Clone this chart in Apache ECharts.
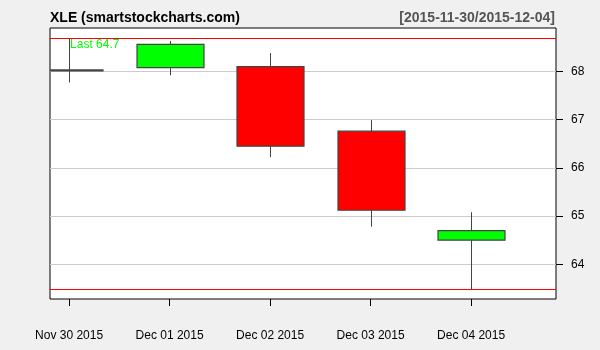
<!DOCTYPE html>
<html>
<head>
<meta charset="utf-8">
<script src="https://cdn.jsdelivr.net/npm/echarts@6/dist/echarts.min.js"></script>
<style>
html,body{margin:0;padding:0;background:#f0f0f0;}
#c{width:600px;height:350px;}
</style>
</head>
<body>
<div id="c"></div>
<script>
const dates = ['Nov 30 2015', 'Dec 01 2015', 'Dec 02 2015', 'Dec 03 2015', 'Dec 04 2015'];
const opens = [68.03, 68.08, 68.10, 66.76, 64.50];
const closes = [68.03, 68.56, 66.45, 65.12, 64.70];
const lows = [67.77, 67.92, 66.22, 64.78, 63.48];
const highs = [68.69, 68.63, 68.38, 66.99, 65.08];
const yTicks = [64, 65, 66, 67, 68];
const rangeHigh = 68.69;
const rangeLow = 63.48;
const lastPrice = 64.7;
const titleText = 'XLE (smartstockcharts.com)';
const rangeText = '[2015-11-30/2015-12-04]';

const idx = dates.map((d, i) => i);
const data = idx.map(i => [i, opens[i], closes[i], lows[i], highs[i]]);

const BODY_W = 67;
function renderCandle(params, api) {
  const x = api.value(0), o = api.value(1), c = api.value(2), l = api.value(3), h = api.value(4);
  const pH = api.coord([x, h]), pL = api.coord([x, l]);
  const pO = api.coord([x, o]), pC = api.coord([x, c]);
  const cx = Math.round(pH[0]) + 0.5;
  const top = Math.min(pO[1], pC[1]);
  let hgt = Math.abs(pO[1] - pC[1]);
  if (hgt < 1) hgt = 1;
  const cs = params.coordSys;
  const rect = echarts.graphic.clipRectByRect(
    {x: cx - BODY_W / 2, y: top, width: BODY_W, height: hgt},
    {x: cs.x, y: cs.y, width: cs.width, height: cs.height}
  );
  const up = c >= o;
  const children = [{
    type: 'line',
    shape: {x1: cx, y1: pH[1], x2: cx, y2: pL[1]},
    style: {stroke: '#444', lineWidth: 1}
  }];
  if (rect) {
    children.push({
      type: 'rect',
      shape: rect,
      style: {fill: up ? '#00ff00' : '#ff0000', stroke: '#444', lineWidth: 1.2}
    });
  }
  return {type: 'group', children: children};
}

const chart = echarts.init(document.getElementById('c'), null, {renderer: 'canvas'});
chart.setOption({
  backgroundColor: '#f0f0f0',
  animation: false,
  textStyle: {fontFamily: 'Liberation Sans, Arial, sans-serif'},
  title: [
    {text: titleText, left: 45, top: 6, textStyle: {fontSize: 14, fontWeight: 'bold', color: '#000', fontFamily: 'Liberation Sans'}},
    {text: rangeText, right: 40, top: 6, textStyle: {fontSize: 14, fontWeight: 'bold', color: '#555', fontFamily: 'Liberation Sans'}}
  ],
  grid: {left: 50, right: 44, top: 28, bottom: 51, show: true, backgroundColor: '#fff', borderColor: '#000', borderWidth: 1},
  xAxis: {
    type: 'value', min: -0.19, max: 4.845,
    axisLine: {show: false, onZero: false},
    axisTick: {show: true, length: 7, lineStyle: {color: '#000'}, customValues: idx},
    axisLabel: {customValues: idx, margin: 31, fontSize: 12, color: '#000', fontFamily: 'Liberation Sans',
      formatter: v => dates[Math.round(v)]},
    splitLine: {show: false}
  },
  yAxis: {
    type: 'value', position: 'right', min: 63.28, max: 68.9,
    axisLine: {show: false, onZero: false},
    axisTick: {show: true, length: 7, lineStyle: {color: '#000'}, customValues: yTicks},
    axisLabel: {customValues: yTicks, margin: 15, fontSize: 12, color: '#000', fontFamily: 'Liberation Sans'},
    splitLine: {show: true, lineStyle: {color: '#cccccc', width: 1}}
  },
  series: [{
    type: 'custom',
    data: data,
    encode: {x: 0, y: [1, 2, 3, 4]},
    clip: true,
    renderItem: renderCandle,
    markLine: {
      silent: true, symbol: 'none', animation: false,
      lineStyle: {color: '#ff0000', width: 1, type: 'solid'},
      label: {show: false},
      data: [{yAxis: rangeHigh}, {yAxis: rangeLow}]
    },
    markPoint: {
      silent: true, symbol: 'circle', symbolSize: 0,
      label: {show: true, position: [1, 1], align: 'left', verticalAlign: 'top', color: '#00ff00', fontSize: 12,
        fontFamily: 'Liberation Sans', formatter: 'Last ' + lastPrice},
      data: [{coord: [0, rangeHigh]}]
    }
  }]
});
</script>
</body>
</html>
